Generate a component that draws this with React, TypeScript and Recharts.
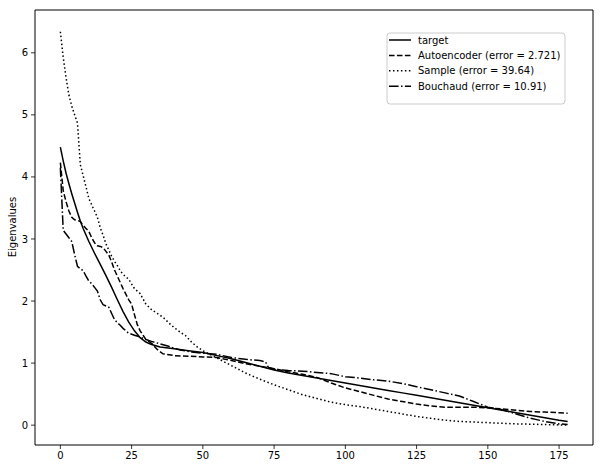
import { LineChart, Line, XAxis, YAxis, ReferenceLine } from "recharts"

const targetX = [0, 1, 2, 3, 4, 5, 6, 7, 8, 10, 12, 14, 16, 18, 20, 22, 24, 26, 28, 30, 32, 35, 40, 45, 50, 55, 60, 65, 70, 75, 80, 85, 90, 95, 100, 105, 110, 115, 120, 125, 130, 135, 140, 145, 150, 155, 160, 165, 170, 175, 178]
const targetY = [4.48, 4.26, 4.06, 3.89, 3.73, 3.58, 3.43, 3.29, 3.17, 2.96, 2.77, 2.59, 2.41, 2.22, 2.02, 1.83, 1.66, 1.52, 1.41, 1.34, 1.3, 1.26, 1.23, 1.2, 1.17, 1.12, 1.07, 1.01, 0.95, 0.89, 0.84, 0.8, 0.76, 0.72, 0.68, 0.64, 0.6, 0.56, 0.52, 0.48, 0.44, 0.4, 0.36, 0.32, 0.28, 0.24, 0.2, 0.16, 0.12, 0.08, 0.06]

const autoX = [0, 1, 2, 3, 4, 5, 6, 7, 8, 9, 10, 11, 12, 13, 14, 15, 16, 17, 18, 19, 20, 22, 24, 25, 26, 27, 28, 29, 30, 32, 34, 36, 40, 45, 50, 55, 60, 65, 70, 75, 80, 85, 90, 95, 100, 105, 110, 115, 120, 125, 130, 135, 140, 145, 150, 155, 160, 165, 170, 175, 178]
const autoY = [4.23, 3.78, 3.6, 3.45, 3.35, 3.31, 3.3, 3.28, 3.22, 3.17, 3.12, 3.02, 2.94, 2.89, 2.88, 2.86, 2.8, 2.74, 2.63, 2.5, 2.4, 2.2, 2.02, 1.95, 1.78, 1.62, 1.52, 1.45, 1.38, 1.32, 1.22, 1.15, 1.12, 1.11, 1.1, 1.09, 1.04, 0.99, 0.95, 0.91, 0.86, 0.82, 0.77, 0.68, 0.6, 0.54, 0.48, 0.42, 0.38, 0.34, 0.31, 0.29, 0.29, 0.29, 0.28, 0.26, 0.24, 0.22, 0.21, 0.2, 0.19]

const sampleX = [0, 1, 2, 3, 4, 5, 6, 7, 8, 9, 10, 11, 12, 13, 14, 15, 16, 17, 18, 19, 20, 21, 22, 24, 26, 28, 30, 32, 34, 36, 38, 40, 42, 44, 46, 48, 50, 55, 60, 65, 70, 75, 80, 85, 90, 95, 100, 105, 110, 115, 120, 125, 130, 135, 140, 145, 150, 160, 170, 178]
const sampleY = [6.34, 5.93, 5.6, 5.32, 5.14, 5.0, 4.87, 4.2, 4.02, 3.84, 3.65, 3.55, 3.45, 3.35, 3.18, 3.06, 2.92, 2.82, 2.72, 2.64, 2.57, 2.49, 2.43, 2.35, 2.2, 2.12, 1.95, 1.86, 1.8, 1.74, 1.65, 1.57, 1.5, 1.44, 1.34, 1.26, 1.2, 1.08, 0.96, 0.84, 0.74, 0.65, 0.57, 0.49, 0.43, 0.37, 0.33, 0.3, 0.26, 0.22, 0.18, 0.14, 0.11, 0.08, 0.06, 0.05, 0.04, 0.02, 0.01, 0.0]

const bouchaudX = [0, 1, 2, 3, 4, 5, 6, 7, 8, 9, 10, 11, 12, 13, 14, 15, 16, 17, 18, 19, 20, 21, 22, 24, 26, 28, 30, 32, 35, 38, 42, 46, 50, 55, 60, 65, 70, 72, 73, 75, 80, 85, 90, 95, 100, 105, 110, 115, 120, 125, 130, 135, 140, 145, 150, 155, 160, 165, 170, 175, 178]
const bouchaudY = [4.15, 3.14, 3.08, 3.02, 2.96, 2.75, 2.56, 2.52, 2.49, 2.4, 2.32, 2.28, 2.22, 2.16, 2.02, 1.94, 1.92, 1.9, 1.8, 1.7, 1.65, 1.61, 1.56, 1.48, 1.45, 1.42, 1.38, 1.35, 1.31, 1.27, 1.21, 1.18, 1.16, 1.14, 1.09, 1.06, 1.04, 1.02, 0.93, 0.9, 0.88, 0.87, 0.85, 0.83, 0.78, 0.76, 0.73, 0.71, 0.67, 0.62, 0.57, 0.52, 0.47, 0.38, 0.29, 0.25, 0.18, 0.11, 0.06, 0.02, 0.01]

const xTicks = [0, 25, 50, 75, 100, 125, 150, 175]
const yTicks = [0, 1, 2, 3, 4, 5, 6]
const xDomain = [-8.9, 186.9]
const yDomain = [-0.32, 6.69]

const zip = (xs: number[], ys: number[]) => xs.map((x, i) => ({ x, y: ys[i] }))

const series = [
  { name: "target", data: zip(targetX, targetY), dash: undefined },
  { name: "Autoencoder (error = 2.721)", data: zip(autoX, autoY), dash: "5.55 2.4" },
  { name: "Sample (error = 39.64)", data: zip(sampleX, sampleY), dash: "1.5 2.475" },
  { name: "Bouchaud (error = 10.91)", data: zip(bouchaudX, bouchaudY), dash: "9.6 2.4 1.5 2.4" },
]

const font = "'DejaVu Sans', sans-serif"
const tickStyle = { fontSize: 10, fill: "#000", fontFamily: font }
const axisLine = { stroke: "#000", strokeWidth: 1 }
const tickLine = { stroke: "#000", strokeWidth: 0.8 }

function Legend() {
  return (
    <svg width={180} height={73} style={{ position: "absolute", left: 386, top: 32 }}>
      <rect x={1} y={1} width={178} height={71} rx={3} fill="rgba(255,255,255,0.8)" stroke="#ccc" />
      {series.map((s, i) => {
        const y = 8 + i * 15.4
        return (
          <g key={s.name}>
            <line x1={3} x2={25} y1={y} y2={y} stroke="#000" strokeWidth={1.5} strokeDasharray={s.dash} />
            <text x={32} y={y + 3.5} fontSize={10} fontFamily={font} fill="#000">
              {s.name}
            </text>
          </g>
        )
      })}
    </svg>
  )
}

export default function App() {
  return (
    <div style={{ position: "absolute", left: 0, top: 0, width: 603, height: 469, background: "#fff" }}>
      <LineChart width={603} height={469} margin={{ top: 10, right: 10, left: 0, bottom: 0 }}>
        <XAxis
          dataKey="x"
          type="number"
          domain={xDomain}
          ticks={xTicks}
          allowDataOverflow
          height={24}
          tick={tickStyle}
          tickSize={4}
          tickMargin={3}
          axisLine={axisLine}
          tickLine={tickLine}
        />
        <YAxis
          type="number"
          domain={yDomain}
          ticks={yTicks}
          allowDataOverflow
          width={35}
          tick={tickStyle}
          tickSize={4}
          tickMargin={3}
          axisLine={axisLine}
          tickLine={tickLine}
        />
        <ReferenceLine y={yDomain[1]} stroke="#000" strokeWidth={1} ifOverflow="visible" />
        <ReferenceLine x={xDomain[1]} stroke="#000" strokeWidth={1} ifOverflow="visible" />
        {series.map((s) => (
          <Line
            key={s.name}
            data={s.data}
            dataKey="y"
            name={s.name}
            type="linear"
            stroke="#000"
            strokeWidth={1.5}
            strokeDasharray={s.dash}
            dot={false}
            activeDot={false}
            isAnimationActive={false}
          />
        ))}
      </LineChart>
      <div
        style={{
          position: "absolute",
          left: 12,
          top: 227,
          transform: "translate(-50%, -50%) rotate(-90deg)",
          fontFamily: font,
          fontSize: 10,
          whiteSpace: "nowrap",
          color: "#000",
        }}
      >
        Eigenvalues
      </div>
      <Legend />
    </div>
  )
}
